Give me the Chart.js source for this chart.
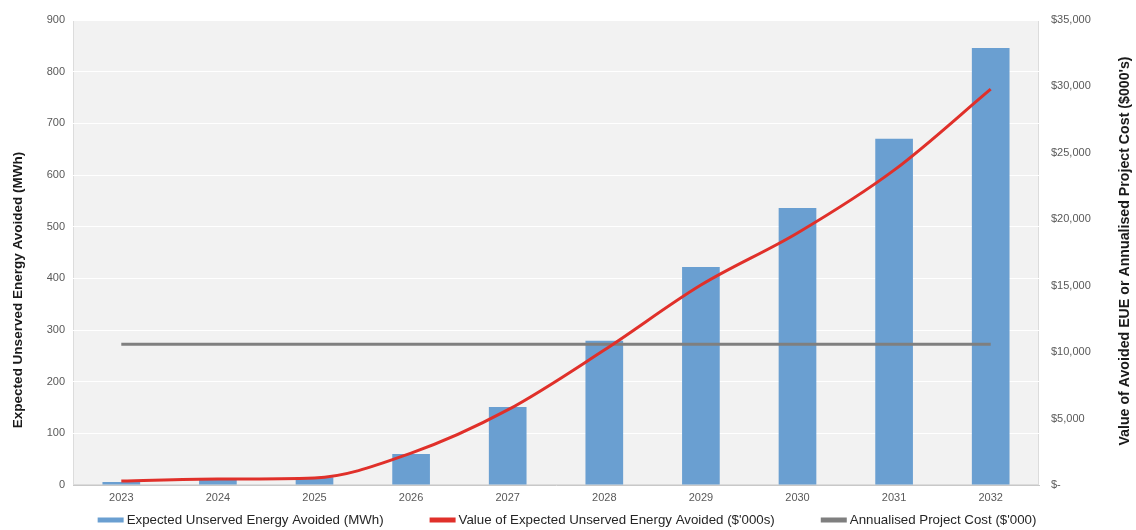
<!DOCTYPE html>
<html>
<head>
<meta charset="utf-8">
<script src="https://cdn.jsdelivr.net/npm/chart.js@4.4.1/dist/chart.umd.min.js"></script>
<style>
  html, body { margin: 0; padding: 0; background: #ffffff; }
  #wrap { width: 1136px; height: 530px; }
</style>
</head>
<body>
<div id="wrap"><canvas id="c" width="1136" height="530"></canvas></div>
<script>
const years = ['2023', '2024', '2025', '2026', '2027', '2028', '2029', '2030', '2031', '2032'];
const eueMWh = [6, 10, 15, 60, 151, 279, 422, 536, 670, 846];
const eueValue = [300, 450, 530, 2400, 5650, 10160, 15050, 18970, 23700, 29800];
const projectCost = [10600, 10600, 10600, 10600, 10600, 10600, 10600, 10600, 10600, 10600];

const seriesNames = [
  'Expected Unserved Energy Avoided (MWh)',
  "Value of Expected Unserved Energy Avoided ($'000s)",
  "Annualised Project Cost ($'000)"
];
const seriesColors = ['#6a9fd1', '#e0302a', '#7f7f7f'];
const leftTitle = 'Expected Unserved Energy Avoided (MWh)';
const rightTitle = "Value of Avoided EUE or Annualised Project Cost ($000's)";

const FONT = '"Liberation Sans", Arial, sans-serif';

// grey fill behind the plotting area
const plotBackground = {
  id: 'plotBackground',
  beforeDraw(chart) {
    const { ctx, chartArea: a } = chart;
    ctx.save();
    ctx.fillStyle = '#f2f2f2';
    ctx.fillRect(a.left, a.top, a.right - a.left, a.bottom - a.top);
    ctx.strokeStyle = '#dcdcdc';
    ctx.lineWidth = 1;
    ctx.strokeRect(a.left + 0.5, a.top + 0.5, a.right - a.left - 1, a.bottom - a.top - 1);
    ctx.restore();
  }
};

// rotated axis titles and the legend row along the bottom
const annotations = {
  id: 'annotations',
  afterDraw(chart) {
    const { ctx } = chart;
    ctx.save();
    ctx.fillStyle = '#1a1a1a';
    ctx.textAlign = 'center';
    ctx.textBaseline = 'middle';

    ctx.font = 'bold 13.5px ' + FONT;
    ctx.save();
    ctx.translate(18, 290);
    ctx.rotate(-Math.PI / 2);
    ctx.fillText(leftTitle, 0, 0);
    ctx.restore();

    ctx.font = 'bold 14.2px ' + FONT;
    ctx.save();
    ctx.translate(1125, 251);
    ctx.rotate(-Math.PI / 2);
    ctx.fillText(rightTitle, 0, 0);
    ctx.restore();

    // legend
    ctx.font = '13.3px ' + FONT;
    const boxW = 26, boxH = 5, boxGap = 3, itemGap = 46;
    const widths = seriesNames.map(n => boxW + boxGap + ctx.measureText(n).width);
    const total = widths.reduce((s, w) => s + w, 0) + itemGap * (widths.length - 1);
    let x = 567 - total / 2;
    const y = 520;
    ctx.textAlign = 'left';
    seriesNames.forEach((n, i) => {
      ctx.fillStyle = seriesColors[i];
      ctx.fillRect(x, y - boxH / 2, boxW, boxH);
      ctx.fillStyle = '#262626';
      ctx.fillText(n, x + boxW + boxGap, y);
      x += widths[i] + itemGap;
    });
    ctx.restore();
  }
};

new Chart(document.getElementById('c'), {
  type: 'bar',
  data: {
    labels: years,
    datasets: [
      {
        type: 'bar',
        label: seriesNames[0],
        data: eueMWh,
        backgroundColor: seriesColors[0],
        yAxisID: 'y',
        categoryPercentage: 1,
        barPercentage: 0.39,
        order: 3
      },
      {
        type: 'line',
        label: seriesNames[1],
        data: eueValue,
        borderColor: seriesColors[1],
        backgroundColor: seriesColors[1],
        borderWidth: 3,
        pointRadius: 0,
        cubicInterpolationMode: 'monotone',
        yAxisID: 'y1',
        order: 1
      },
      {
        type: 'line',
        label: seriesNames[2],
        data: projectCost,
        borderColor: seriesColors[2],
        backgroundColor: seriesColors[2],
        borderWidth: 3,
        pointRadius: 0,
        yAxisID: 'y1',
        order: 2
      }
    ]
  },
  options: {
    responsive: false,
    animation: false,
    devicePixelRatio: 1,
    layout: { padding: { left: 0, right: 0, top: 20, bottom: 0 } },
    plugins: {
      tooltip: { enabled: false },
      legend: { display: false }
    },
    scales: {
      x: {
        offset: true,
        grid: { display: false, drawTicks: false },
        border: { display: true, color: '#c8c8c8' },
        ticks: { color: '#595959', font: { family: FONT, size: 11 }, padding: 6 },
        afterFit(scale) { scale.height = 45; }
      },
      y: {
        position: 'left',
        min: 0,
        max: 900,
        ticks: { stepSize: 100, color: '#595959', font: { family: FONT, size: 11 }, padding: 8 },
        grid: { color: '#ffffff', lineWidth: 1, drawTicks: false },
        border: { display: false },
        afterFit(scale) { scale.width = 73; }
      },
      y1: {
        position: 'right',
        min: 0,
        max: 35000,
        ticks: {
          stepSize: 5000,
          color: '#595959',
          font: { family: FONT, size: 11 },
          padding: 12,
          callback: v => v === 0 ? '$-' : '$' + v.toLocaleString('en-US')
        },
        grid: { display: false, drawTicks: false },
        border: { display: false },
        afterFit(scale) { scale.width = 97; }
      }
    }
  },
  plugins: [plotBackground, annotations]
});
</script>
</body>
</html>
